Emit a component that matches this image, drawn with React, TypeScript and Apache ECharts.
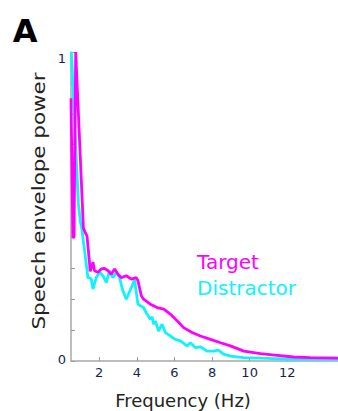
import React, { useEffect, useRef } from "react";
import * as echarts from "echarts";

// Frequency (Hz) / normalised envelope power
const targetFreq = [0.5, 0.6, 0.66, 0.75, 1.16, 1.26, 1.35, 1.49, 1.52, 1.67, 1.75, 1.93, 2.11, 2.28, 2.47, 2.64, 2.82, 3.0, 3.17, 3.44, 3.71, 3.97, 4.06, 4.24, 4.36, 4.72, 5.08, 5.43, 5.78, 6.14, 6.49, 6.94, 7.38, 7.92, 8.45, 8.98, 9.69, 10.58, 11.47, 12.35, 13.24, 14.7];
const targetPower = [0.85, 0.4, 0.4, 1.0, 0.43, 0.415, 0.405, 0.314, 0.29, 0.32, 0.292, 0.287, 0.298, 0.3, 0.292, 0.281, 0.298, 0.281, 0.27, 0.276, 0.265, 0.27, 0.26, 0.211, 0.2, 0.184, 0.173, 0.168, 0.152, 0.13, 0.108, 0.092, 0.081, 0.07, 0.059, 0.049, 0.032, 0.024, 0.0185, 0.013, 0.011, 0.009];

const distractorFreq = [0.52, 0.89, 1.0, 1.07, 1.4, 1.575, 1.67, 1.84, 2.02, 2.2, 2.375, 2.55, 2.73, 2.91, 3.08, 3.26, 3.44, 3.71, 3.88, 4.06, 4.19, 4.36, 4.54, 4.72, 4.81, 4.89, 4.98, 5.16, 5.34, 5.52, 5.78, 6.05, 6.32, 6.67, 6.85, 7.12, 7.38, 7.74, 8.08, 8.34, 8.61, 8.98, 9.67, 10.58, 12.34, 14.7];
const distractorPower = [1.0, 0.51, 0.45, 0.43, 0.27, 0.266, 0.233, 0.27, 0.287, 0.276, 0.254, 0.292, 0.27, 0.287, 0.27, 0.227, 0.2, 0.238, 0.263, 0.184, 0.179, 0.173, 0.152, 0.135, 0.143, 0.119, 0.13, 0.097, 0.119, 0.092, 0.081, 0.07, 0.065, 0.049, 0.059, 0.043, 0.046, 0.032, 0.032, 0.035, 0.022, 0.016, 0.011, 0.009, 0.0055, 0.0055];

const xTickValues = [2, 4, 6, 8, 10, 12];
const yTickValues = [0, 0.1, 0.2, 0.3, 0.4, 0.5, 0.6, 0.7, 0.8, 0.9, 1];
const yLabelValues = [0, 1];

const seriesNames = ["Target", "Distractor"];
const panelLabel = "A";
const xTitle = "Frequency (Hz)";
const yTitle = "Speech envelope power";

const MAGENTA = "#ff00ff";
const CYAN = "#11f2ff";
const FONT = "DejaVu Sans";
const TICK_COLOR = "#1a1f4d";

export default function App() {
  const ref = useRef<HTMLDivElement>(null);
  useEffect(() => {
    if (!ref.current) return;
    const chart = echarts.init(ref.current, undefined, { renderer: "svg" });
    const zip = (xs: number[], ys: number[]) => xs.map((x, i) => [x, ys[i]]);
    chart.setOption({
      animation: false,
      backgroundColor: "#ffffff",
      grid: { left: 71, right: 0, top: 52, bottom: 50 },
      xAxis: {
        type: "value",
        min: 0.5,
        max: 14.7,
        axisLine: { show: true, onZero: false, lineStyle: { color: "#a8a8a8", width: 1.5 } },
        axisTick: { show: true, inside: true, length: 4, customValues: xTickValues, lineStyle: { color: "#999" } },
        axisLabel: { customValues: xTickValues, margin: 5, fontSize: 13, color: TICK_COLOR, fontFamily: FONT },
        splitLine: { show: false },
      },
      yAxis: {
        type: "value",
        min: 0,
        max: 1,
        axisLine: { show: true, lineStyle: { color: "#a8a8a8", width: 1.5 } },
        axisTick: { show: true, inside: true, length: 4, customValues: yTickValues, lineStyle: { color: "#999" } },
        axisLabel: {
          customValues: yLabelValues,
          margin: 5,
          fontSize: 13,
          color: TICK_COLOR,
          fontFamily: FONT,
          formatter: (v: number) => (v === 1 ? "{t|1}" : "{b|0}"),
          rich: {
            t: { padding: [12, 0, 0, 0], fontSize: 13, color: TICK_COLOR, fontFamily: FONT },
            b: { padding: [0, 0, 4, 0], fontSize: 13, color: TICK_COLOR, fontFamily: FONT },
          },
        },
        splitLine: { show: false },
      },
      series: [
        {
          name: seriesNames[1],
          type: "line",
          data: zip(distractorFreq, distractorPower),
          showSymbol: false,
          lineStyle: { color: CYAN, width: 2.8 },
          clip: true,
        },
        {
          name: seriesNames[0],
          type: "line",
          data: zip(targetFreq, targetPower),
          showSymbol: false,
          lineStyle: { color: MAGENTA, width: 2.8 },
          clip: true,
        },
      ],
      graphic: [
        {
          type: "text",
          x: 25,
          y: 31,
          style: { text: panelLabel, font: `bold 32px "${FONT}"`, fill: "#000", textAlign: "center", textVerticalAlign: "middle" },
        },
        {
          type: "text",
          x: 183,
          y: 400,
          style: { text: xTitle, font: `18px "${FONT}"`, fill: "#222", textAlign: "center", textVerticalAlign: "middle" },
        },
        {
          type: "text",
          x: 39,
          y: 201,
          rotation: Math.PI / 2,
          scaleX: 1.19,
          style: { text: yTitle, font: `18px "${FONT}"`, fill: "#222", textAlign: "center", textVerticalAlign: "middle" },
        },
        {
          type: "text",
          x: 197,
          y: 262,
          style: { text: seriesNames[0], font: `20px "${FONT}"`, fill: MAGENTA, textAlign: "left", textVerticalAlign: "middle" },
        },
        {
          type: "text",
          x: 197,
          y: 288,
          style: { text: seriesNames[1], font: `20px "${FONT}"`, fill: CYAN, textAlign: "left", textVerticalAlign: "middle" },
        },
      ],
    });
    return () => chart.dispose();
  }, []);
  return <div ref={ref} style={{ width: 338, height: 411, position: "fixed", left: 0, top: 0 }} />;
}
